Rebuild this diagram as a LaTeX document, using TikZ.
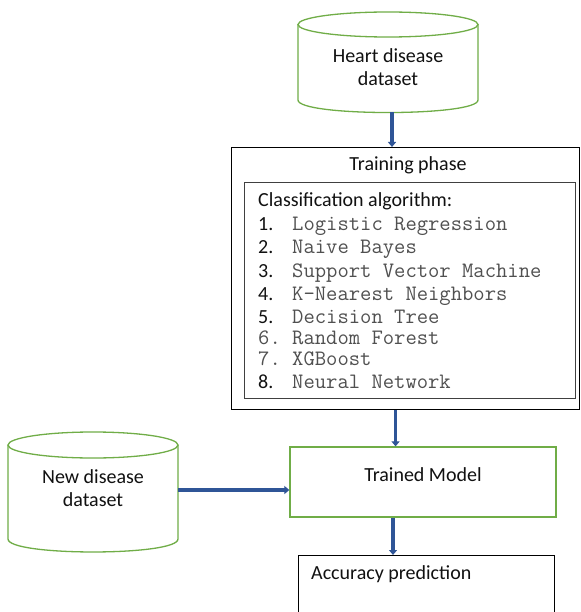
\documentclass[tikz,border=0pt]{standalone}
\usepackage{fontspec}
\setmainfont{Carlito}
\usetikzlibrary{arrows.meta}
\definecolor{cylgreen}{HTML}{70AD47}
\definecolor{arrblue}{HTML}{2F5597}
\definecolor{monogray}{HTML}{505050}
\definecolor{txtdark}{HTML}{111111}
\begin{document}
\begin{tikzpicture}[x=1pt,y=-1pt,
  cyl/.style={draw=cylgreen, line width=1.3pt},
  gbox/.style={draw=cylgreen, line width=1.3pt, inner sep=0pt},
  inv/.style={inner sep=0pt},
  arr/.style={draw=arrblue, line width=3.8pt, -{Triangle[length=5pt,width=8pt]}},
  lab/.style={inner sep=0pt, font=\fontsize{20}{24}\selectfont, text=txtdark, align=center},
  num/.style={inner sep=0pt, anchor=base west, font=\fontsize{20}{24}\selectfont, text=txtdark},
  mono/.style={inner sep=0pt, anchor=base west, font=\fontsize{22}{24}\selectfont\ttfamily, text=monogray}
]
\clip (0,0) rectangle (580,612);
\fill[white] (0,0) rectangle (580,612);

% Heart disease dataset cylinder
\draw[cyl] (388,24.5) ellipse [x radius=90, y radius=12.5];
\draw[cyl] (298,24.5) -- (298,100) .. controls (298,116.7) and (478,116.7) .. (478,100) -- (478,24.5);
\node[inv, minimum width=180pt, minimum height=100pt] (heart) at (388,62) {};
\node[lab, anchor=base] (hearttxt) at (388,63) {Heart disease};
\node[lab, anchor=base] (hearttxt2) at (388,86) {dataset};

% Training phase box
\node[draw=black, line width=1.1pt, inner sep=0pt, minimum width=348pt, minimum height=262pt, anchor=north west] (train) at (231,147) {};
\node[lab, anchor=base] (traintxt) at (408,171) {Training phase};
\node[draw=black!75, line width=1.1pt, inner sep=0pt, minimum width=331pt, minimum height=216pt, anchor=north west] (inner) at (244,182) {};
\node[num] (cls) at (258,207) {Classification algorithm:};
\node[num] (n1) at (258,230) {1.};
\node[mono] (a1) at (292,230) {Logistic Regression};
\node[num] (n2) at (258,253) {2.};
\node[mono] (a2) at (292,253) {Naive Bayes};
\node[num] (n3) at (258,277) {3.};
\node[mono] (a3) at (292,277) {Support Vector Machine};
\node[num] (n4) at (258,300) {4.};
\node[mono] (a4) at (292,300) {K-Nearest Neighbors};
\node[num] (n5) at (258,323) {5.};
\node[mono] (a5) at (292,323) {Decision Tree};
\node[mono] (n6) at (258,344) {6.};
\node[mono] (a6) at (292,344) {Random Forest};
\node[mono] (n7) at (258,365) {7.};
\node[mono] (a7) at (292,365) {XGBoost};
\node[num] (n8) at (258,388) {8.};
\node[mono] (a8) at (292,388) {Neural Network};

% New disease dataset cylinder
\draw[cyl] (93,445) ellipse [x radius=85, y radius=13];
\draw[cyl] (8,445) -- (8,539) .. controls (8,556.3) and (178,556.3) .. (178,539) -- (178,445);
\node[inv, minimum width=170pt, minimum height=116pt] (newds) at (93,490) {};
\node[lab, anchor=base] (newtxt) at (93,483) {New disease};
\node[lab, anchor=base] (newtxt2) at (93,506) {dataset};

% Trained model
\node[gbox, minimum width=266pt, minimum height=70pt] (tm) at (423,482) {};
\node[lab, anchor=base] (tmtxt) at (423,481) {Trained Model};

% Accuracy prediction
\node[draw=black, line width=1.1pt, inner sep=0pt, minimum width=256pt, minimum height=90pt, anchor=north west] (acc) at (298,555) {};
\node[lab, anchor=base west] (acctxt) at (311,579) {Accuracy prediction};

% Connectors
\draw[arr] ([xshift=4pt]heart.south) -- ([xshift=4pt]heart.south |- train.north);
\draw[arr] ([xshift=-10pt]train.south) -- ([xshift=-10pt]train.south |- tm.north);
\draw[arr] ([xshift=-30pt]tm.south) -- ([xshift=-30pt]tm.south |- acc.north);
\draw[arr] (newds.east) -- (newds.east -| tm.west);
\end{tikzpicture}
\end{document}
